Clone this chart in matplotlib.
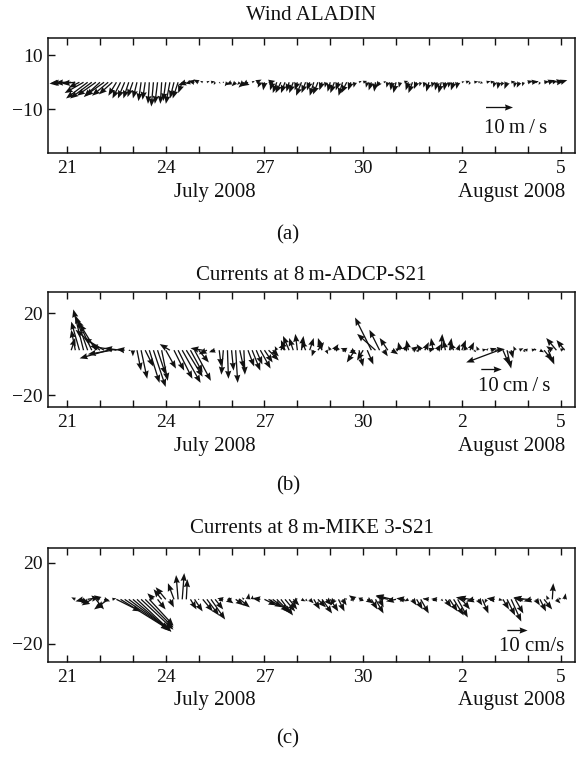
import numpy as np
import matplotlib
matplotlib.use("Agg")
import matplotlib.pyplot as plt
from matplotlib.ticker import MultipleLocator, FixedLocator, FixedFormatter

plt.rcParams['font.family'] = ['Liberation Serif', 'DejaVu Serif']

# ---------------- data (days after 21 July 2008, 00:00) ----------------
tick_days = [0, 3, 6, 9, 12, 15]
tick_labels = ["21", "24", "27", "30", "2", "5"]
month_labels = ["July 2008", "August 2008"]
month_days = [4.5, 13.5]

# Wind ALADIN, 3-hourly, m/s
wind_t0, wind_dt = -0.125, 0.125
wind_u = [-5, -6, -6, -5, -4, -7, -8, -8,
          -7, -6, -7, -6, -5, -3, -3, -2.5,
          -2, -2, -1.5, -1, -1, -0.5, -0.8, -1,
          -0.5, -1, -1.5, -1.5, -2, -1.5, -3, -2,
          -2.5, -2, -1, 1, 1.5, -0.5, 0.5, 0,
          -1, -2, -1.5, -1, -2, -2.5, 1, 2,
          -1, -0.5, 2.5, -1, -1.5, -2, -1.5, -1,
          -1.5, -1, -2, -1.5, -1, -1.5, -1.8, -1,
          -0.5, -1, -1.5, -1, -1.5, -2, -1, -0.5,
          1, 1.5, -0.5, -1, -0.5, -1.5, 1, -0.5,
          -0.5, -1, -0.5, 1.5, -1, -1.5, -1, -0.5,
          -0.5, -1, -0.5, -0.8, -1, -0.5, -0.5, -1,
          -0.5, 1, 1.5, -0.5, 1.5, 1, -1, 1.5,
          1.5, -0.5, -0.5, -0.8, -1, 1.5, -0.5, -1,
          -0.5, 2, 2.5, 1, -0.5, 2, 2.5, 2,
          3, 2.5]
wind_v = [-0.5, -0.3, -0.2, -0.5, -2, -4, -6, -6,
          -5, -5.5, -5, -5, -4.5, -5, -6, -6,
          -6, -5.5, -6, -7, -6.5, -8, -9, -8,
          -8, -7, -8, -6, -6, -4, -1, -0.5,
          0.5, 1, 0.5, 0.5, 0.3, -1, -0.5, -0.2,
          -1.5, -1, -1.5, -1, -2, -1.5, 0.5, 1,
          -2, -3, 0.5, -3, -4, -4, -4, -3.5,
          -4, -3, -5, -4, -3, -5, -4.5, -3,
          -2, -3.5, -4, -3, -5, -4, -3, -2,
          0.5, 0.5, -2, -3, -3.5, -2, 0.3, -2,
          -3, -4, -2, 0.5, -3, -4, -2.5, -1.5,
          -2, -3.5, -2, -3, -4, -3, -2, -3,
          -2.5, 0.3, 0.5, -1, 0.3, 0.2, -0.5, 0.4,
          0.3, -2, -2.5, -1.5, -2.5, 0.3, -2, -2,
          -1.5, 0.5, 0.3, 0.5, -1, 0.3, 0.8, 0.5,
          0.5, 0.8]

# Currents at 8 m, ADCP S21, 3-hourly, cm/s
adcp_t0, adcp_dt = 0.125, 0.125
adcp_u = [2, -2, -4, -5, -6, -7, -8, -12,
          -10, -14, -12, -13, -8, -4, 1, 0,
          2, 3, 4, 5, 6, 4, 3, 5,
          -5, 5, 7, 9, 8, 6, 8, 5,
          -6, -4, 1, -3, 1, -1, 0.5, 1,
          1, 2, 0.5, 3, 4, 3, 5, 4,
          5, 3, -1, 2, -2, -3, -2, -1,
          1, -2, 2, -1, 3, -2, 1, -1,
          2, -1, 1, -3, 3, -4, 2, -3,
          3, -8, -9, -5, 2, -4, 3, 2,
          -1, 2, -1, 3, 1, -2, 2, 3,
          -1, 2, 0.5, -1, 1, -2, 1, 2,
          -1, 2, 1, -1, 2, 1, 3, 5,
          -16, 3, 2, 1, -1, 2, 1, -2,
          2, -1, 2, 4, 3, -3, -5, 2,
          -4]
adcp_v = [6, 10, 14, 20, 17, 15, 13, 10,
          6, -4, -2, 2, 1, 0.5, -0.3, -3,
          -10, -14, -8, -16, -18, -12, -15, -9,
          3, -10, -14, -16, -13, -11, -15, -6,
          1, -2, -1, -1, -8, -12, -14, -10,
          -16, -9, -12, -8, -10, -7, -9, -6,
          -5, -3, 2, 4, 5, 7, 6, 8,
          7, 5, 6, -3, 4, 6, -2, 2,
          3, 2, -1, 1, -2, -6, -8, -5,
          -7, 16, 8, 10, -3, 6, -2, 1,
          4, 3, 5, 2, -1, 3, 4, 1,
          6, 3, 8, 5, 6, 4, 3, 5,
          3, 4, -1, 2, 0.5, 1, 1, 0.5,
          -6, -7, -9, -4, 2, 1, -1, 0.5,
          0.5, 1, -1, -5, -7, 2, 6, 1,
          5]

# Currents at 8 m, MIKE 3 model S21, 3-hourly, cm/s
mike_t0, mike_dt = 0.25, 0.125
mike_u = [-2, 5, -4, 6, -5, 4, -3, 3,
          -7, 2, 12, 24, 22, 20, 19, 17,
          16, 14, 12, -3, 4, -4, -5, 2,
          -3, -1, 1, 0.5, 3, 4, 0, 5,
          6, 7, 4, 2, -3, 3, -2, 4,
          5, -1, 0.5, 0.3, 1, -4, 6, 7,
          8, 7, 6, 5, 4, 3, -1, 2,
          1, 2, 3, 4, 5, 3, 4, -2,
          3, 2, -1, 1, -3, 2, -2, 3,
          3, 4, 2, -2, -6, -8, -5, 3,
          -4, -2, 2, 3, 4, -1, -3, 2,
          -3, 1, 3, 4, 5, 5, 4, -5,
          -6, -4, 2, 3, -1, 2, -4, 2,
          3, 4, 5, 4, 2, -5, -7, -4,
          2, 3, 4, -1, 0.5, 2, -1, 0.5]
mike_v = [1, -2, -1, 1, -3, -5, 2, -1,
          -5, 0.5, -6, -15, -15, -15, -16, -16,
          -15, -14, -13, 3, -5, 5, 6, -4,
          8, 12, 13, 10, -5, -6, -0.5, -6,
          -8, -10, -5, -1, 0.5, -2, 0.5, -3,
          -4, 1, 3, 2, 0.2, 0.5, -3, -4,
          -6, -7, -8, -6, -5, -3, 0.5, -1,
          -1, -2, -5, -4, -7, -3, -6, -3,
          -6, -3, 0.5, -1, 2, 1, -1, -2,
          -5, -7, -4, 1, 1.5, 2, -1, -0.5,
          0.5, -1, -3, -5, -7, 0.5, 0.3, -1,
          0.2, -1, -4, -6, -8, -9, -5, 1,
          1, -1, -3, -7, -2, -1, 0.5, -0.5,
          -5, -8, -11, -7, -1, 1, 0.5, -1,
          -3, -6, -5, 2, 8, -2, 1, 3]

panels = [
    dict(title="Wind ALADIN", t0=wind_t0, dt=wind_dt, u=wind_u, v=wind_v,
         base=0.0, ylim=(-26.2, 16.4), yticks=[-10, 10], ytl=["\u221210", "10"],
         key="10\u2009m\u2009/\u2009s", keyxy=(0.855, 0.40), keylab=(0.827, 0.217),
         rect=[48/576, 1-153/759, 527/576, 115/759], letter="(a)", ly=235, pad=13),
    dict(title="Currents at 8\u2009m-ADCP-S21", t0=adcp_t0, dt=adcp_dt, u=adcp_u, v=adcp_v,
         base=2.0, ylim=(-25.8, 30.5), yticks=[-20, 20], ytl=["\u221220", "20"],
         key="10\u2009cm\u2009/\u2009s", keyxy=(0.84, 0.33), keylab=(0.815, 0.174),
         rect=[48/576, 1-407/759, 527/576, 115/759], letter="(b)", ly=486, pad=9),
    dict(title="Currents at 8\u2009m-MIKE 3-S21", t0=mike_t0, dt=mike_dt, u=mike_u, v=mike_v,
         base=2.0, ylim=(-29.0, 27.4), yticks=[-20, 20], ytl=["\u221220", "20"],
         key="10 cm/s", keyxy=(0.89, 0.278), keylab=(0.855, 0.14),
         rect=[48/576, 1-662/759, 527/576, 114/759], letter="(c)", ly=739, pad=11),
]

fig = plt.figure(figsize=(5.76, 7.59), dpi=100)
ink = "#111111"
fs_tick = 14
fs_text = 15

for p in panels:
    ax = fig.add_axes(p["rect"])
    u = np.array(p["u"], dtype=float)
    v = np.array(p["v"], dtype=float)
    t = p["t0"] + p["dt"] * np.arange(len(u))
    q = ax.quiver(t, np.full_like(t, p["base"]), u, v, angles='uv',
                  scale_units='y', scale=1, units='dots', width=1.3,
                  headwidth=4.8, headlength=6.2, headaxislength=5.6, color=ink,
                  clip_on=False)
    ax.quiverkey(q, p["keyxy"][0], p["keyxy"][1], 10, "", coordinates='axes',
                 labelpos='S', color=ink)
    ax.text(p["keylab"][0], p["keylab"][1], p["key"], transform=ax.transAxes,
            ha='left', va='center', fontsize=fs_text, color=ink)
    ax.set_xlim(-0.58, 15.44)
    ax.set_ylim(*p["ylim"])
    ax.xaxis.set_major_locator(FixedLocator(tick_days))
    ax.xaxis.set_major_formatter(FixedFormatter(tick_labels))
    ax.xaxis.set_minor_locator(MultipleLocator(1))
    ax.yaxis.set_major_locator(FixedLocator(p["yticks"]))
    ax.yaxis.set_major_formatter(FixedFormatter(p["ytl"]))
    ax.tick_params(axis='x', which='both', direction='in', top=True, bottom=True,
                   length=5, width=1, color=ink, labelsize=fs_tick, pad=5, labelcolor=ink)
    ax.tick_params(axis='y', which='both', direction='in', left=True, right=False,
                   length=5, width=1, color=ink, labelsize=fs_tick, pad=4, labelcolor=ink)
    for s in ax.spines.values():
        s.set_linewidth(1.1)
        s.set_color(ink)
    ax.set_title(p["title"], fontsize=fs_text, color=ink, pad=p["pad"])
    for md, ml in zip(month_days, month_labels):
        ax.text(md, -0.34, ml, transform=ax.get_xaxis_transform(), ha='center',
                va='center', fontsize=fs_text, color=ink)
    fig.text(0.5, 1 - p["ly"]/759, p["letter"], ha='center', va='center',
             fontsize=fs_text, color=ink)

fig.savefig("out.png", dpi=100)
